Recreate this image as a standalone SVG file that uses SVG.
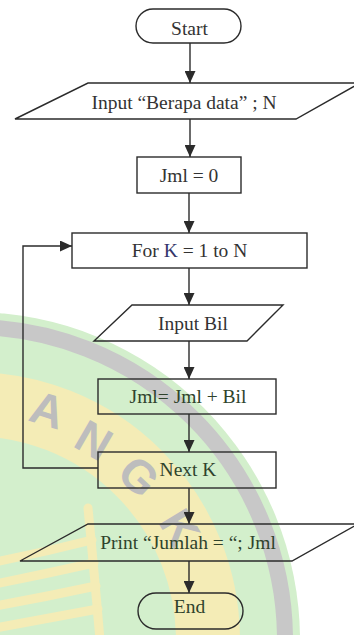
<svg xmlns="http://www.w3.org/2000/svg" width="354" height="635" viewBox="0 0 354 635">
  <style>
    .shape { fill: none; stroke: #2b2b2b; stroke-width: 1.4; }
    .edge { fill: none; stroke: #2b2b2b; stroke-width: 1.4; }
    .label { font-family: "Liberation Serif", "Times New Roman", serif; font-size: 19.5px; fill: #333333; text-anchor: middle; }
    .tinted { fill: #2f432c; }
    .wm-letter { font-family: "Liberation Sans", Arial, sans-serif; font-weight: bold; font-size: 46px; fill: #bdbdbd; text-anchor: middle; }
  </style>
  <defs>
    <marker id="arrow" viewBox="0 0 12 11" refX="12" refY="5.5" markerWidth="12" markerHeight="11" markerUnits="userSpaceOnUse" orient="auto">
      <path d="M0,0 L12,5.5 L0,11 z" fill="#2b2b2b"/>
    </marker>
  </defs>

  <rect width="354" height="635" fill="#ffffff"/>

  <!-- faint round emblem in the lower-left background -->
  <g id="emblem">
    <circle cx="-28" cy="640" r="328" fill="#d3efcc"/>
    <circle cx="-28" cy="640" r="313" fill="none" stroke="#c8c8c8" stroke-width="16"/>
    <circle cx="-28" cy="640" r="236" fill="none" stroke="#f4ecb6" stroke-width="64"/>
    <text class="wm-letter" transform="translate(43,425) rotate(17)">A</text>
    <text class="wm-letter" transform="translate(86,454) rotate(30)">N</text>
    <text class="wm-letter" transform="translate(128,488) rotate(43)">G</text>
    <text class="wm-letter" transform="translate(166,536) rotate(59)">K</text>
    <g fill="none" stroke="#f4ecb6" stroke-width="9" stroke-linecap="round">
      <path d="M88,508 Q94,570 100,640"/>
      <path d="M-5,562 Q45,552 92,540"/>
      <path d="M-5,584 Q45,574 94,563"/>
      <path d="M-5,606 Q45,597 96,586"/>
      <path d="M-5,628 Q45,619 98,609"/>
    </g>
  </g>

  <!-- connectors -->
  <g id="connectors">
    <line class="edge" x1="190" y1="43" x2="190" y2="83" marker-end="url(#arrow)"/>
    <line class="edge" x1="190" y1="119" x2="190" y2="157" marker-end="url(#arrow)"/>
    <line class="edge" x1="189" y1="193" x2="189" y2="233" marker-end="url(#arrow)"/>
    <line class="edge" x1="189" y1="268" x2="189" y2="305" marker-end="url(#arrow)"/>
    <line class="edge" x1="189" y1="341" x2="189" y2="379" marker-end="url(#arrow)"/>
    <line class="edge" x1="189" y1="414" x2="189" y2="452" marker-end="url(#arrow)"/>
    <line class="edge" x1="189" y1="488" x2="189" y2="524" marker-end="url(#arrow)"/>
    <line class="edge" x1="189" y1="561" x2="189" y2="593" marker-end="url(#arrow)"/>
    <polyline class="edge" points="98,468 23,468 23,246 72,246" marker-end="url(#arrow)"/>
  </g>

  <g id="start">
    <rect class="shape" x="136" y="9" width="105" height="34" rx="17"/>
    <text class="label" x="189.5" y="35">Start</text>
  </g>

  <g id="input-n">
    <polygon class="shape" points="88,83 360,83 296,119 15,119"/>
    <text class="label" x="184" y="109">Input “Berapa data” ; N</text>
  </g>

  <g id="init-jml">
    <rect class="shape" x="137" y="157" width="104" height="36"/>
    <text class="label" x="189" y="182">Jml = 0</text>
  </g>

  <g id="for-loop">
    <rect class="shape" x="72" y="233" width="235" height="35"/>
    <text class="label" x="189.5" y="257">For <tspan fill="#34356a">K</tspan> = 1 to N</text>
  </g>

  <g id="input-bil">
    <polygon class="shape" points="132,305 283,305 247,341 94,341"/>
    <text class="label" x="193" y="330">Input Bil</text>
  </g>

  <g id="accumulate">
    <rect class="shape" x="98" y="379" width="178" height="35"/>
    <text class="label tinted" x="188" y="403">Jml= Jml + Bil</text>
  </g>

  <g id="next-k">
    <rect class="shape" x="98" y="452" width="178" height="36"/>
    <text class="label tinted" x="188" y="476">Next K</text>
  </g>

  <g id="print">
    <polygon class="shape" points="88,524 358,524 292,561 20,561"/>
    <text class="label tinted" x="188" y="549">Print “Jumlah = “; Jml</text>
  </g>

  <g id="end">
    <rect class="shape" x="138" y="593" width="105" height="36" rx="18"/>
    <text class="label tinted" x="189.5" y="613">End</text>
  </g>
</svg>
